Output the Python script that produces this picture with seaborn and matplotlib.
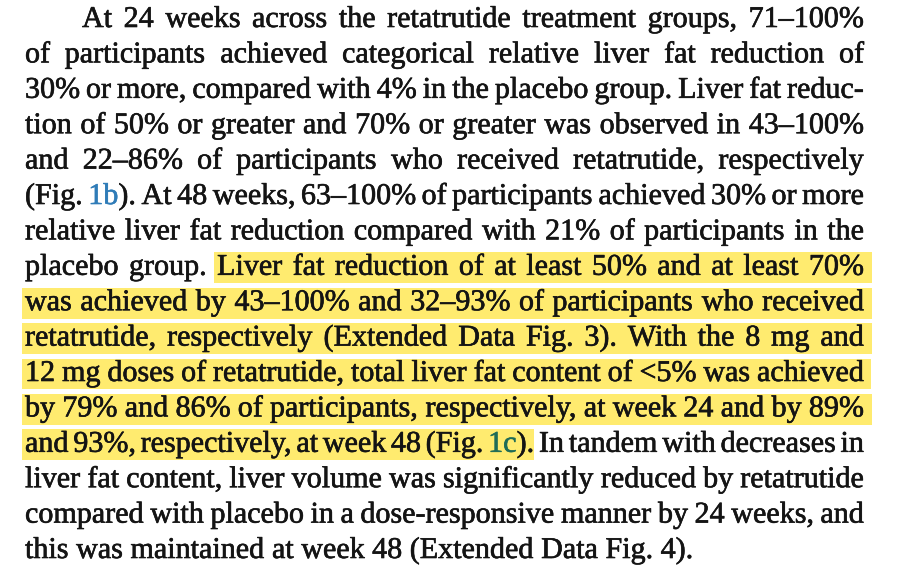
import numpy as np
import matplotlib
matplotlib.use("Agg")
import matplotlib.pyplot as plt
import matplotlib.patheffects as pe
import seaborn as sns

# --- Paragraph content (one entry per typeset line) ---
lines = [
    "At 24 weeks across the retatrutide treatment groups, 71–100%",
    "of participants achieved categorical relative liver fat reduction of",
    "30% or more, compared with 4% in the placebo group. Liver fat reduc-",
    "tion of 50% or greater and 70% or greater was observed in 43–100%",
    "and 22–86% of participants who received retatrutide, respectively",
    "(Fig. 1b). At 48 weeks, 63–100% of participants achieved 30% or more",
    "relative liver fat reduction compared with 21% of participants in the",
    "placebo group. Liver fat reduction of at least 50% and at least 70%",
    "was achieved by 43–100% and 32–93% of participants who received",
    "retatrutide, respectively (Extended Data Fig. 3). With the 8 mg and",
    "12 mg doses of retatrutide, total liver fat content of <5% was achieved",
    "by 79% and 86% of participants, respectively, at week 24 and by 89%",
    "and 93%, respectively, at week 48 (Fig. 1c). In tandem with decreases in",
    "liver fat content, liver volume was significantly reduced by retatrutide",
    "compared with placebo in a dose-responsive manner by 24 weeks, and",
    "this was maintained at week 48 (Extended Data Fig. 4).",
]

# figure references shown as links
link_words = ["1b", "1c"]
link_colors = ["#2f7cb8", "#1f6c57"]

# highlighted passage: (line, word) of first and last highlighted word
highlight_from = (7, 2)
highlight_to = (12, 7)

# --- Layout / style ---
W, H = 900, 581
LEFT, RIGHT = 25, 864
INDENT = 57
BASE0 = 27
PITCH = 35.4
MIN_GAP = 0.6  # tightest word gap allowed, as a share of a normal space
TEXT_COLOR = "#141414"
HL_COLOR = "#ffeb6f"

sns.set_theme(style="white")
plt.rcParams["font.family"] = ["Liberation Serif", "DejaVu Serif"]

fig = plt.figure(figsize=(W / 100, H / 100), dpi=100)
ax = fig.add_axes([0, 0, 1, 1])
ax.set_xlim(0, W)
ax.set_ylim(H, 0)
ax.axis("off")
renderer = fig.canvas.get_renderer()


def text_width(s, size):
    t = ax.text(0, 0, s, fontsize=size)
    w = t.get_window_extent(renderer).width
    t.remove()
    return w


def put(x, y, s, size, color):
    # slight stroke so the thin Times-like glyphs read as heavy as the print font
    ax.text(x, y, s, fontsize=size, color=color, va="baseline", ha="left", zorder=2,
            path_effects=[pe.withStroke(linewidth=0.45, foreground=color)])


# pick a font size so the tightest justified line just fits
base_size = 20.0
ratios = []
space0 = text_width("x x", base_size) - text_width("xx", base_size)
for i, line in enumerate(lines[:-1]):
    words = line.split(" ")
    avail = RIGHT - LEFT - (INDENT if i == 0 else 0)
    nat = sum(text_width(w, base_size) for w in words) + MIN_GAP * space0 * (len(words) - 1)
    ratios.append(nat / avail)
fs = base_size / max(ratios) * 0.997
space_w = text_width("x x", fs) - text_width("xx", fs)

for i, line in enumerate(lines):
    words = line.split(" ")
    widths = [text_width(w, fs) for w in words]
    x0 = LEFT + (INDENT if i == 0 else 0)
    if i < len(lines) - 1:
        gap = (RIGHT - x0 - sum(widths)) / (len(words) - 1)
    else:
        gap = space_w
    xs = x0 + np.concatenate([[0], np.cumsum(np.array(widths[:-1]) + gap)])
    base = BASE0 + PITCH * i

    # highlight bar behind this line
    if highlight_from[0] <= i <= highlight_to[0]:
        hx0 = xs[highlight_from[1]] if i == highlight_from[0] else x0
        if i == highlight_to[0]:
            hx1 = xs[highlight_to[1]] + widths[highlight_to[1]]
        else:
            hx1 = xs[-1] + widths[-1] + space_w
        box_h = 0.87 * PITCH
        top = base - 0.63 * PITCH
        ax.barh(top + box_h / 2, hx1 - hx0 + 3, left=hx0 - 3, height=box_h,
                color=HL_COLOR, edgecolor="none", zorder=0)

    for x, w in zip(xs, words):
        link = None
        for k, c in zip(link_words, link_colors):
            if w.startswith(k):
                link = (k, c)
        if link is None:
            put(x, base, w, fs, TEXT_COLOR)
        else:
            k, c = link
            put(x, base, k, fs, c)
            put(x + text_width(k, fs), base, w[len(k):], fs, TEXT_COLOR)

fig.savefig("out.png", dpi=100, facecolor="white")
